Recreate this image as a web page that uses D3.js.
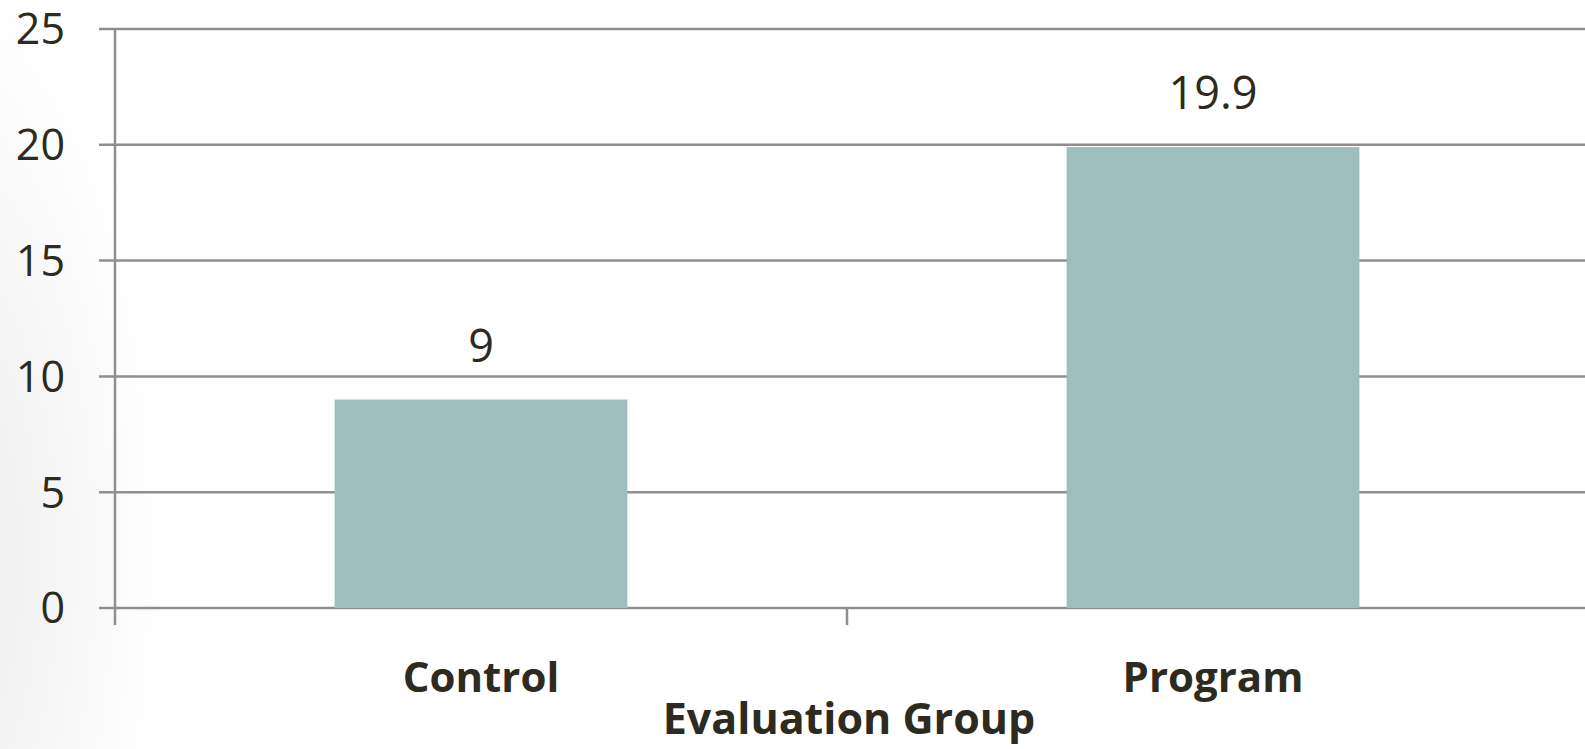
<!DOCTYPE html>
<html>
<head>
<meta charset="utf-8">
<script src="https://cdn.jsdelivr.net/npm/d3@7"></script>
<style>
    html, body { margin: 0; padding: 0; background: #fff; }
    svg { display: block; }
</style>
</head>
<body>
<svg id="chart" width="1585" height="749"></svg>
<script>
const categories = ["Control", "Program"];
const values = [9, 19.9];
const yTicks = [0, 5, 10, 15, 20, 25];
const xTitle = "Evaluation Group";

(function (d3) {
    'use strict';

    const svg = d3.select("#chart");
    const width = 1585, height = 749;
    const left = 115, top = 29, bottom = 608, right = 1579;
    const textColor = "#2d2a20";
    const gridColor = "#8f8f8f";

    // faint slide background at the left edge
    const defs = svg.append("defs");
    const grad = defs.append("radialGradient")
        .attr("id", "bg")
        .attr("gradientUnits", "userSpaceOnUse")
        .attr("cx", -60).attr("cy", 560).attr("r", 230)
        .attr("gradientTransform", "translate(-60,560) scale(1,2.6) translate(60,-560)");
    grad.append("stop").attr("offset", "0%").attr("stop-color", "#ececec");
    grad.append("stop").attr("offset", "100%").attr("stop-color", "#ffffff");
    svg.append("rect").attr("width", width).attr("height", height).attr("fill", "url(#bg)");

    const y = d3.scaleLinear().domain([0, 25]).range([bottom, top]);
    const x = d3.scaleBand().domain(categories).range([left, right])
        .paddingInner(0.6).paddingOuter(0.3);
    const step = x.step();

    // horizontal gridlines (with outward tick)
    svg.append("g")
        .selectAll("line")
        .data(yTicks)
        .enter()
        .append("line")
        .attr("x1", left - 16)
        .attr("x2", width)
        .attr("y1", d => y(d))
        .attr("y2", d => y(d))
        .style("stroke", gridColor)
        .style("stroke-width", 2.5);

    // y axis line
    svg.append("line")
        .attr("x1", left).attr("x2", left)
        .attr("y1", top).attr("y2", bottom + 17)
        .style("stroke", gridColor)
        .style("stroke-width", 2.5);

    // category boundary tick between the groups
    const bounds = d3.range(1, categories.length).map(i => left + i * step);
    svg.append("g")
        .selectAll("line")
        .data(bounds)
        .enter()
        .append("line")
        .attr("x1", d => d).attr("x2", d => d)
        .attr("y1", bottom).attr("y2", bottom + 17)
        .style("stroke", gridColor)
        .style("stroke-width", 2.5);

    // y tick labels
    svg.append("g")
        .selectAll("text")
        .data(yTicks)
        .enter()
        .append("text")
        .attr("x", left - 50)
        .attr("y", d => y(d))
        .attr("dy", "0.36em")
        .attr("text-anchor", "end")
        .style("font-family", "'Open Sans', sans-serif")
        .style("font-size", "43px")
        .style("fill", textColor)
        .text(d => d);

    // bars
    svg.append("g")
        .selectAll("rect")
        .data(values)
        .enter()
        .append("rect")
        .attr("x", (d, i) => x(categories[i]))
        .attr("width", x.bandwidth())
        .attr("y", d => y(d))
        .attr("height", d => y(0) - y(d))
        .style("fill", "#9ebdbd");

    // value labels
    svg.append("g")
        .selectAll("text")
        .data(values)
        .enter()
        .append("text")
        .attr("x", (d, i) => x(categories[i]) + x.bandwidth() / 2)
        .attr("y", d => y(d) - 38)
        .attr("text-anchor", "middle")
        .style("font-family", "'Open Sans', sans-serif")
        .style("font-size", "45px")
        .style("fill", textColor)
        .text(d => d);

    // category labels
    svg.append("g")
        .selectAll("text")
        .data(categories)
        .enter()
        .append("text")
        .attr("x", d => x(d) + x.bandwidth() / 2)
        .attr("y", 692)
        .attr("text-anchor", "middle")
        .style("font-family", "'Open Sans', sans-serif")
        .style("font-weight", "bold")
        .style("font-size", "42px")
        .style("fill", textColor)
        .text(d => d);

    svg.append("text")
        .attr("x", (left + right) / 2 + 2)
        .attr("y", 734)
        .attr("text-anchor", "middle")
        .style("font-family", "'Open Sans', sans-serif")
        .style("font-weight", "bold")
        .style("font-size", "43px")
        .style("fill", textColor)
        .text(xTitle);

}(d3));
</script>
</body>
</html>
